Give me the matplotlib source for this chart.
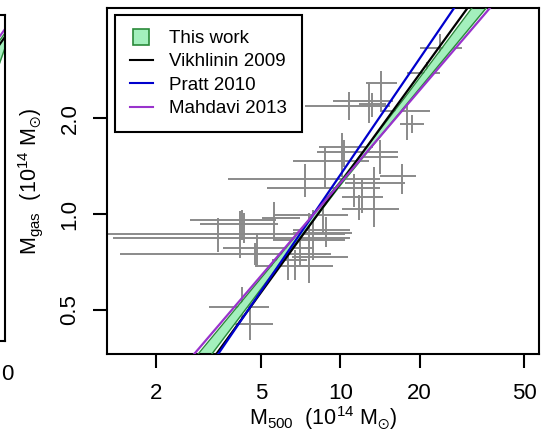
import numpy as np
import matplotlib
matplotlib.use("Agg")
import matplotlib.pyplot as plt
from matplotlib.lines import Line2D

plt.rcParams["font.family"] = ["Liberation Sans", "DejaVu Sans"]
plt.rcParams["mathtext.fontset"] = "custom"
plt.rcParams["mathtext.rm"] = "Liberation Sans"
plt.rcParams["mathtext.it"] = "Liberation Sans:italic"
plt.rcParams["mathtext.fallback"] = "stixsans"

# cluster masses, 1e14 Msun
M500 = np.array([23.9, 21.35, 17.9, 18.7, 14.3, 12.85, 10.74, 13.18, 10.12, 10.33,
                 8.75, 14.15, 17.15, 7.35, 13.42, 11.27, 12.09, 11.78, 8.61, 4.22,
                 4.31, 3.44, 4.17, 4.75, 4.83, 7.04, 6.74, 7.61, 7.89, 8.83,
                 6.34, 5.60, 4.22, 4.55])
M500_LO = np.array([20.1, 17.9, 14.15, 16.9, 12.5, 9.39, 7.35, 11.78, 8.31, 8.17,
                    6.62, 11.78, 14.15, 3.75, 10.42, 5.27, 10.16, 10.16, 5.56, 2.69,
                    2.94, 1.315, 1.374, 1.46, 3.59, 6.56, 4.75, 5.56, 6.62, 6.62,
                    5.50, 5.04, 3.18, 3.69])
M500_HI = np.array([29.0, 23.9, 21.9, 20.8, 16.4, 15.86, 15.45, 14.92, 13.30, 16.57,
                    12.85, 16.57, 19.38, 14.15, 17.61, 14.15, 14.52, 16.72, 10.70, 5.71,
                    5.81, 10.42, 10.88, 9.23, 7.82, 10.70, 9.39, 10.42, 10.88, 11.08,
                    7.50, 7.04, 5.37, 5.56])
MGAS = np.array([3.33, 2.78, 2.10, 1.91, 2.57, 2.27, 2.18, 2.22, 1.62, 1.57,
                 1.47, 1.51, 1.32, 1.29, 1.25, 1.21, 1.13, 1.04, 0.993, 0.958,
                 0.930, 0.866, 0.841, 0.750, 0.783, 0.733, 0.687, 0.829, 0.891, 0.872,
                 0.718, 0.972, 0.512, 0.453])
MGAS_LO = np.array([2.97, 2.63, 1.71, 1.80, 2.11, 1.93, 1.97, 2.01, 1.31, 1.40,
                    1.21, 1.34, 1.16, 1.13, 0.91, 1.05, 1.01, 0.958, 0.872, 0.829,
                    0.811, 0.760, 0.728, 0.692, 0.682, 0.682, 0.621, 0.608, 0.718, 0.788,
                    0.621, 0.829, 0.466, 0.404])
MGAS_HI = np.array([3.68, 2.99, 2.32, 2.05, 2.82, 2.57, 2.41, 2.39, 1.79, 1.71,
                    1.62, 1.71, 1.44, 1.44, 1.40, 1.34, 1.28, 1.15, 1.11, 1.03,
                    1.01, 0.972, 1.02, 0.811, 0.872, 0.872, 0.771, 1.01, 1.03, 0.978,
                    0.788, 1.09, 0.591, 0.538])

# scaling relations, M500 where each crosses the given Mgas levels
REL_MGAS = [0.364, 4.43]
VIKHLININ_M500 = [3.381, 30.41]
PRATT_M500 = [3.436, 27.04]
MAHDAVI_M500 = [2.786, 36.98]

# this work: confidence band
BAND_MGAS = [0.364, 0.676, 1.259, 2.344, 4.43]
BAND_M500_LO = [2.884, 5.37, 9.93, 17.74, 31.6]
BAND_M500_HI = [3.251, 5.73, 10.21, 18.92, 35.8]

# neighbouring panel (cut off at the left edge of the image)
LEFT_X = [0.98, 1.0]
LEFT_MAHDAVI = [0.920, 0.957]
LEFT_VIKHLININ = [0.895, 0.933]
LEFT_BAND_TOP = [0.907, 0.945]
LEFT_BAND_BOT = [0.824, 0.899]

XTICKS = [2, 5, 10, 20, 50]
YTICKS = [0.5, 1.0, 2.0]

band_fill = "#a3f0bd"
band_edge = "#2a8a3a"
c_pratt = "#0000cd"
c_mahdavi = "#9933cc"

W, H = 541, 432
fig = plt.figure(figsize=(W / 100, H / 100), dpi=100)

# --- cut-off left panel
axl = fig.add_axes([-430 / W, 1 - 341 / H, 435 / W, 326 / H])
axl.fill_between(LEFT_X, LEFT_BAND_BOT, LEFT_BAND_TOP, color=band_fill, lw=0)
axl.plot(LEFT_X, LEFT_BAND_TOP, color=band_edge, lw=1)
axl.plot(LEFT_X, LEFT_BAND_BOT, color=band_edge, lw=1)
axl.plot(LEFT_X, LEFT_VIKHLININ, color="black", lw=1.5)
axl.plot(LEFT_X, LEFT_MAHDAVI, color=c_mahdavi, lw=1.5)
axl.set_xlim(0, 1)
axl.set_ylim(0, 1)
axl.set_xticks([])
axl.set_yticks([])
for sp in axl.spines.values():
    sp.set_linewidth(1.5)
fig.text(1 / W, 1 - 375 / H, "0", ha="left", va="center", fontsize=16)

# --- main panel
ax = fig.add_axes([107 / W, 1 - 354 / H, 432 / W, 346 / H])
ax.errorbar(M500, MGAS,
            xerr=[M500 - M500_LO, M500_HI - M500],
            yerr=[MGAS - MGAS_LO, MGAS_HI - MGAS],
            fmt="none", ecolor="#8a8a8a", elinewidth=1.4, capsize=0, zorder=1)

ax.fill_betweenx(BAND_MGAS, BAND_M500_LO, BAND_M500_HI, color=band_fill, lw=0, zorder=2)
ax.plot(BAND_M500_LO, BAND_MGAS, color=band_edge, lw=1.0, zorder=3)
ax.plot(BAND_M500_HI, BAND_MGAS, color=band_edge, lw=1.0, zorder=3)
ax.plot(VIKHLININ_M500, REL_MGAS, color="black", lw=1.6, zorder=4)
ax.plot(PRATT_M500, REL_MGAS, color=c_pratt, lw=1.6, zorder=4)
ax.plot(MAHDAVI_M500, REL_MGAS, color=c_mahdavi, lw=1.6, zorder=4)

ax.set_xscale("log")
ax.set_yscale("log")
ax.set_xlim(1.30, 56.8)
ax.set_ylim(0.364, 4.43)
ax.minorticks_off()
ax.set_xticks(XTICKS)
ax.set_xticklabels([str(t) for t in XTICKS])
ax.set_yticks(YTICKS)
ax.set_yticklabels([f"{t:.1f}" for t in YTICKS], rotation=90, va="center")
ax.tick_params(axis="both", direction="out", length=10, width=1.5, labelsize=16)
ax.tick_params(axis="x", pad=11)
ax.tick_params(axis="y", pad=9)
for sp in ax.spines.values():
    sp.set_linewidth(1.5)

fig.text(323 / W, 1 - 418 / H, r"M$_{500}$  (10$^{14}$ M$_{\odot}$)",
         ha="center", va="center", fontsize=15.5)
fig.text(31 / W, 1 - 181 / H, r"M$_{\rm gas}$  (10$^{14}$ M$_{\odot}$)",
         ha="center", va="center", fontsize=15.5, rotation=90)

handles = [
    Line2D([], [], marker="s", markersize=11, markerfacecolor=band_fill,
           markeredgecolor=band_edge, markeredgewidth=1.2, ls="none"),
    Line2D([], [], color="black", lw=1.5),
    Line2D([], [], color=c_pratt, lw=1.5),
    Line2D([], [], color=c_mahdavi, lw=1.5),
]
labels = ["This work", "Vikhlinin 2009", "Pratt 2010", "Mahdavi 2013"]
leg = ax.legend(handles, labels, loc="upper left", bbox_to_anchor=(8 / 432, 1 - 7 / 346),
                borderaxespad=0, fontsize=13.5, fancybox=False, framealpha=1,
                edgecolor="black", handlelength=1.2, handletextpad=0.9,
                labelspacing=0.33, borderpad=0.8)
leg.get_frame().set_linewidth(1.5)

fig.savefig("out.png", dpi=100)
